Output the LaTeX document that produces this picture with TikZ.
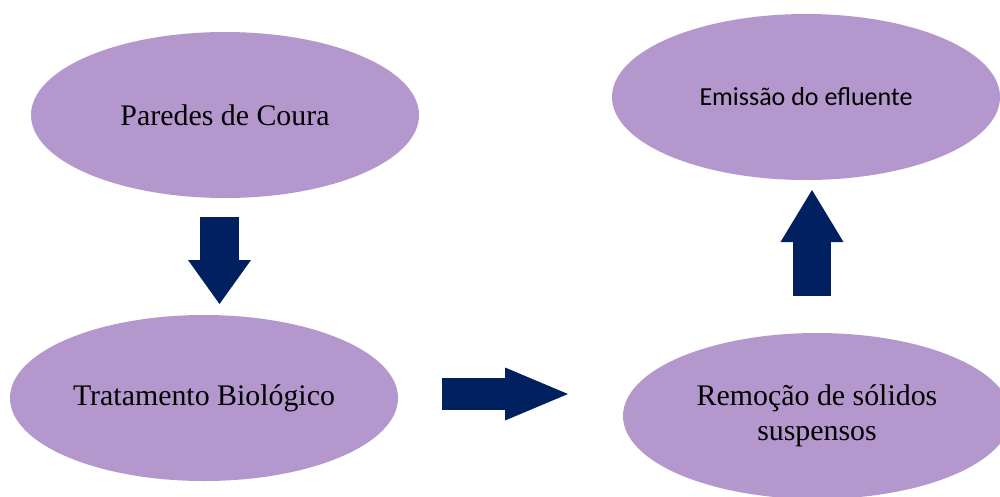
\documentclass[tikz,border=0pt]{standalone}
\usepackage{fontspec}
\setmainfont{Liberation Serif}
\newfontfamily\calfont{Carlito}
\usetikzlibrary{shapes.geometric,arrows.meta}
\definecolor{lilas}{RGB}{180,151,204}
\definecolor{marinho}{RGB}{0,32,96}
\begin{document}
\begin{tikzpicture}
                        \tikzstyle{etapa}=[ellipse, fill=lilas, inner sep=0pt,
                            minimum width=7.76cm, minimum height=3.32cm,
                            align=center, font=\fontsize{17}{20}\selectfont]
                        \tikzstyle{seta}=[draw=marinho, line width=0.78cm]
                        \useasboundingbox (0,0) rectangle (20,-9.92);
                        % etapas
                        \node[etapa] (paredes) at (4.5,-2.3) {Paredes de Coura};
                        \node[etapa] (tratamento) at (4.08,-7.96) {Tratamento Biológico};
                        \node[etapa] (remocao) at (16.34,-8.32) {Remoção de sólidos\\suspensos};
                        \node[etapa, font=\calfont\fontsize{14.8}{18}\selectfont] (emissao) at (16.12,-1.94) {Emissão do efluente};
                        % setas
                        \coordinate (baixo1) at (4.39,-4.34);
                        \coordinate (baixo2) at (4.39,-6.08);
                        \coordinate (dir1) at (8.84,-7.88);
                        \coordinate (dir2) at (11.36,-7.88);
                        \coordinate (cima1) at (16.24,-5.92);
                        \coordinate (cima2) at (16.24,-3.80);
                        \draw[seta, -{Triangle[width=1.26cm, length=0.88cm, line width=0pt, fill=marinho]}] (baixo1) -- (baixo2);
                        \draw[seta, line width=0.64cm, -{Triangle[width=1.06cm, length=1.26cm, line width=0pt, fill=marinho]}] (dir1) -- (dir2);
                        \draw[seta, line width=0.76cm, -{Triangle[width=1.26cm, length=1.04cm, line width=0pt, fill=marinho]}] (cima1) -- (cima2);
                    \end{tikzpicture}
\end{document}
